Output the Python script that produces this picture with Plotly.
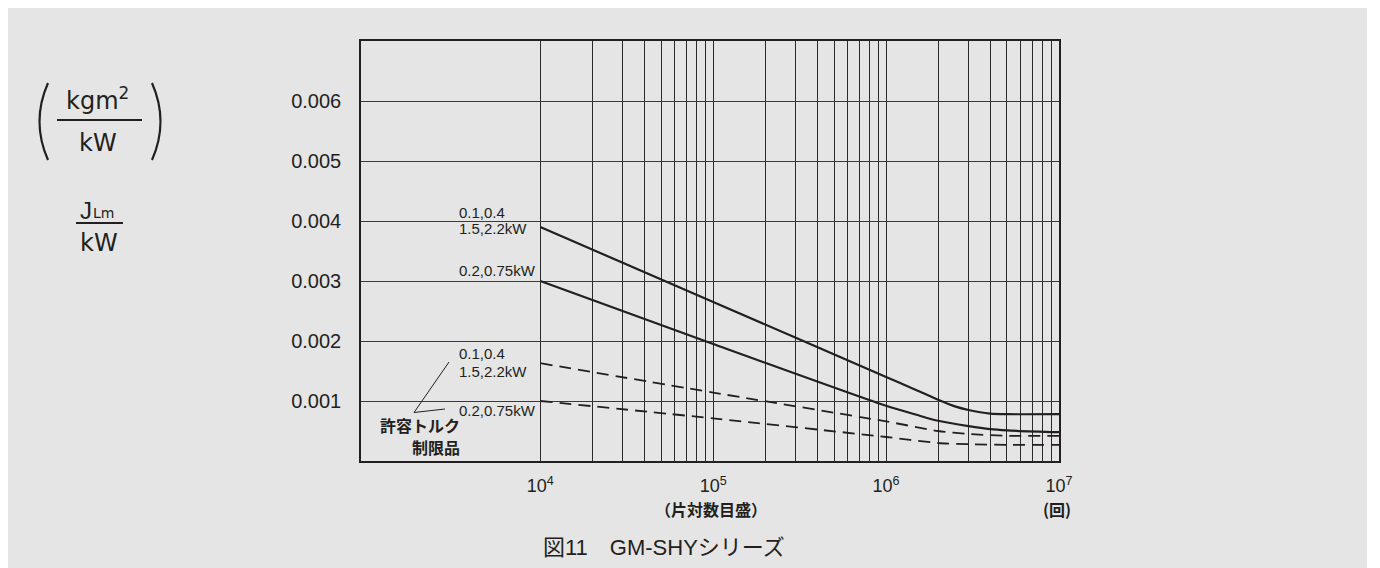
import plotly.graph_objects as go

# ---------------- data ----------------
x_upper_solid = [1e4, 1e5, 1e6, 1.5e6, 2e6, 2.5e6, 3e6, 4e6, 5e6, 1e7]
y_upper_solid = [0.0039, 0.00265, 0.0014, 0.00118, 0.00102, 0.00091, 0.00085, 0.00079, 0.00078, 0.00078]

x_lower_solid = [1e4, 1e5, 1e6, 1.5e6, 2e6, 3e6, 4e6, 5e6, 1e7]
y_lower_solid = [0.0030, 0.00195, 0.00092, 0.00077, 0.00067, 0.00058, 0.00053, 0.00051, 0.00048]

x_upper_dash = [1e4, 1e5, 1e6, 2e6, 3e6, 5e6, 1e7]
y_upper_dash = [0.00163, 0.00114, 0.00066, 0.00050, 0.00045, 0.00042, 0.00042]

x_lower_dash = [1e4, 1e5, 1e6, 2e6, 3e6, 5e6, 1e7]
y_lower_dash = [0.0010, 0.00071, 0.00040, 0.00030, 0.00028, 0.00027, 0.00027]

x_decades = [4, 5, 6, 7]
x_minor_mult = [2, 3, 4, 5, 6, 7, 8, 9]
y_ticks = [0.001, 0.002, 0.003, 0.004, 0.005, 0.006]
y_ticktext = ["0.001", "0.002", "0.003", "0.004", "0.005", "0.006"]

label_solid_a = ["0.1,0.4", "1.5,2.2kW"]
label_solid_b = "0.2,0.75kW"
label_dash_a = ["0.1,0.4", "1.5,2.2kW"]
label_dash_b = "0.2,0.75kW"
limited_text = ["許容トルク", "制限品"]
x_axis_note = "（片対数目盛）"
x_unit = "(回)"
title_text = "図11　GM-SHYシリーズ"

# ---------------- layout geometry (target-pixel based) ----------------
OFF = 8                      # page body margin
W, H = 1380 - OFF, 568 - OFF
L, R, T, B = 361, 1059, 41, 461   # plot box in target pixels
PW, PH = R - L, B - T


def px(p):
    return (p - L) / PW


def py(p):
    return (B - p) / PH


major_vals = [10 ** e for e in x_decades]
major_text = [f"10<sup>{e}</sup>" for e in x_decades]
minor_vals = [m * 10 ** e for e in x_decades[:-1] for m in x_minor_mult]

INK = "#231f20"
LAT = "Liberation Sans, Noto Sans CJK JP"
CJK = "Noto Sans CJK JP"

fig = go.Figure()
fig.add_trace(go.Scatter(x=x_upper_solid, y=y_upper_solid, mode="lines",
                         line=dict(color=INK, width=2.2, shape="spline", smoothing=0.6)))
fig.add_trace(go.Scatter(x=x_lower_solid, y=y_lower_solid, mode="lines",
                         line=dict(color=INK, width=2.2, shape="spline", smoothing=0.6)))
fig.add_trace(go.Scatter(x=x_upper_dash, y=y_upper_dash, mode="lines",
                         line=dict(color=INK, width=1.8, dash="12px,7px", shape="spline", smoothing=0.6)))
fig.add_trace(go.Scatter(x=x_lower_dash, y=y_lower_dash, mode="lines",
                         line=dict(color=INK, width=1.8, dash="12px,7px", shape="spline", smoothing=0.6)))

# unit block vertical anchors (target pixels)
UNIT_TOP = 83
UNIT_BAR = 120
UNIT_BOT = 160

shapes = [
    # grey panel
    dict(type="rect", xref="paper", yref="paper", x0=px(6), x1=px(1367), y0=py(7), y1=py(575),
         fillcolor="#e5e5e5", line=dict(width=0), layer="below"),
    # fraction bars
    dict(type="line", xref="paper", yref="paper", x0=px(57), x1=px(142), y0=py(UNIT_BAR), y1=py(UNIT_BAR),
         line=dict(color=INK, width=2)),
    dict(type="line", xref="paper", yref="paper", x0=px(76), x1=px(123), y0=py(223), y1=py(223),
         line=dict(color=INK, width=2)),
    # parentheses
    dict(type="path", xref="paper", yref="paper",
         path=f"M {px(48)},{py(UNIT_TOP)} Q {px(31)},{py((UNIT_TOP + UNIT_BOT) / 2)} {px(48)},{py(UNIT_BOT)}",
         line=dict(color=INK, width=2.2)),
    dict(type="path", xref="paper", yref="paper",
         path=f"M {px(152)},{py(UNIT_TOP)} Q {px(169)},{py((UNIT_TOP + UNIT_BOT) / 2)} {px(152)},{py(UNIT_BOT)}",
         line=dict(color=INK, width=2.2)),
    # leader lines
    dict(type="line", xref="paper", yref="paper", x0=px(414), x1=px(449), y0=py(412.5), y1=py(362),
         line=dict(color=INK, width=1)),
    dict(type="line", xref="paper", yref="paper", x0=px(414), x1=px(445), y0=py(412.5), y1=py(409),
         line=dict(color=INK, width=1)),
]


def ann(text, x, y, size, xanchor="center", family=LAT, color=INK):
    return dict(text=text, xref="paper", yref="paper", x=px(x), y=py(y), showarrow=False,
                xanchor=xanchor, yanchor="middle", font=dict(size=size, family=family, color=color))


annotations = [
    ann("kgm<sup>2</sup>", 97, UNIT_BAR - 21, 24, family="DejaVu Sans"),
    ann("kW", 98, UNIT_BAR + 23, 24, family="DejaVu Sans"),
    ann("J", 86, 210, 24, family="Liberation Sans"),
    ann("Lm", 91, 213, 14, xanchor="left", family="DejaVu Sans"),
    ann("kW", 99, 243, 24, family="DejaVu Sans"),
    ann(label_solid_a[0], 457, 212, 15, xanchor="left"),
    ann(label_solid_a[1], 457, 229, 15, xanchor="left"),
    ann(label_solid_b, 457, 270, 15, xanchor="left"),
    ann(label_dash_a[0], 457, 353, 15, xanchor="left"),
    ann(label_dash_a[1], 457, 371, 15, xanchor="left"),
    ann(label_dash_b, 457, 410, 15, xanchor="left"),
    ann(f"<b>{limited_text[0]}</b>", 462, 425, 16, xanchor="right", family=CJK),
    ann(f"<b>{limited_text[1]}</b>", 462, 447, 16, xanchor="right", family=CJK),
    ann(f"<b>{x_axis_note}</b>", 711, 509, 16, family=CJK),
    ann(f"<b>{x_unit}</b>", 1057, 509, 16, family=CJK),
    ann(title_text, 664, 547, 22),
]

fig.update_layout(
    width=W, height=H,
    margin=dict(l=L - OFF, r=W - (R - OFF), t=T - OFF, b=H - (B - OFF), pad=0),
    paper_bgcolor="white",
    plot_bgcolor="#e5e5e5",
    showlegend=False,
    shapes=shapes,
    annotations=annotations,
    xaxis=dict(type="log", range=[2.963, 7.0], tickmode="array", tickvals=major_vals, ticktext=major_text,
               showgrid=True, gridcolor="#2a2a2a", gridwidth=1, zeroline=False,
               minor=dict(tickmode="array", tickvals=minor_vals, showgrid=True,
                          gridcolor="#2a2a2a", gridwidth=1, ticks=""),
               showline=True, mirror=True, linecolor=INK, linewidth=1.5,
               ticks="", ticklabelstandoff=8,
               tickfont=dict(size=18, family=LAT, color=INK)),
    yaxis=dict(range=[0, 0.007], tickmode="array", tickvals=y_ticks, ticktext=y_ticktext,
               showgrid=True, gridcolor="#3a3a3a", gridwidth=1, zeroline=False,
               showline=True, mirror=True, linecolor=INK, linewidth=1.5,
               ticks="", ticklabelstandoff=14,
               tickfont=dict(size=20, family=LAT, color=INK)),
)

fig.write_html("out.html")
